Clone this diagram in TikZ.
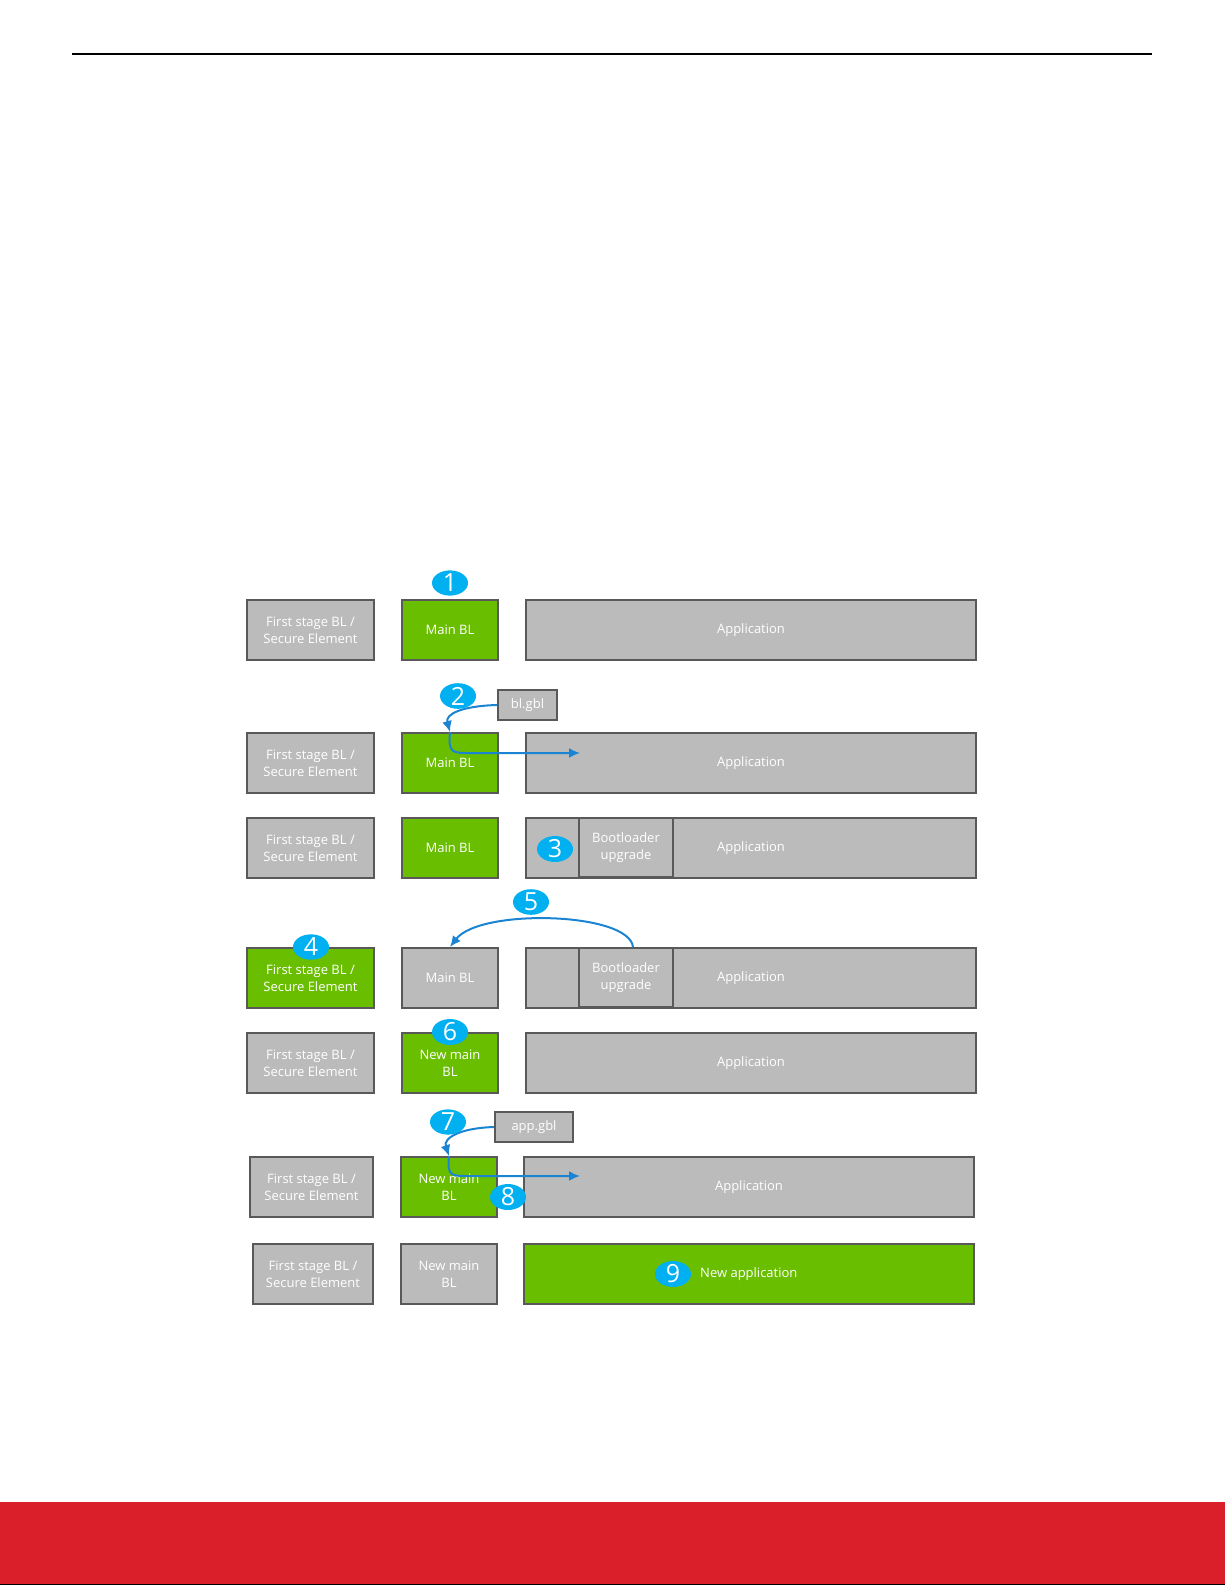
\documentclass[tikz,border=0pt]{standalone}
\usepackage{fontspec}
\setmainfont{Open Sans}
\usetikzlibrary{shapes.geometric,arrows.meta}
\definecolor{boxgray}{HTML}{BBBBBB}
\definecolor{edgegray}{HTML}{595959}
\definecolor{fwgreen}{HTML}{6ABE00}
\definecolor{badgeblue}{HTML}{00B0F0}
\definecolor{arrowblue}{HTML}{1A84D2}
\definecolor{footred}{HTML}{DA1F2A}
\begin{document}
\begin{tikzpicture}[x=1pt,y=-1pt,
  blk/.style={draw=edgegray, line width=2pt, fill=boxgray, text=white, align=center,
    inner sep=0pt, font=\fontsize{13}{17}\selectfont},
  grn/.style={blk, fill=fwgreen},
  fsw/.style={minimum width=127pt, minimum height=60pt},
  mbw/.style={minimum width=96pt, minimum height=60pt},
  apw/.style={minimum width=450pt, minimum height=60pt},
  buw/.style={line width=1.5pt, minimum width=94pt, minimum height=59pt},
  file/.style={blk, minimum height=30pt},
  badge/.style={ellipse, fill=badgeblue, text=white, inner sep=0pt,
    minimum width=36pt, minimum height=25pt, font=\fontsize{25}{25}\selectfont},
  flow/.style={draw=arrowblue, line width=2pt, -{Latex[length=11pt,width=10pt]}}]
\useasboundingbox (0,0) rectangle (1225,1585);
% header rule and footer band
\coordinate (hl) at (72,54);
\coordinate (hr) at (1152,54);
\draw[line width=1.4pt] (hl) -- (hr);
\fill[footred] (0,1502) rectangle (1225,1585);
\draw[line width=1pt] (0,1584.5) -- (1225,1584.5);

% row 1
\node[blk,fsw] (f1) at (310.5,630) {First stage BL /\\Secure Element};
\node[grn,mbw] (m1) at (450,630) {Main BL};
\node[blk,apw] (a1) at (751,630) {Application};
% row 2
\node[blk,fsw] (f2) at (310.5,763) {First stage BL /\\Secure Element};
\node[grn,mbw] (m2) at (450,763) {Main BL};
\node[blk,apw] (a2) at (751,763) {Application};
\node[file,minimum width=59pt] (g1) at (527.5,705) {bl.gbl};
% row 3
\node[blk,fsw] (f3) at (310.5,848) {First stage BL /\\Secure Element};
\node[grn,mbw] (m3) at (450,848) {Main BL};
\node[blk,apw] (a3) at (751,848) {Application};
\node[blk,buw] (u3) at (626,847.5) {Bootloader\\upgrade};
% row 4
\node[grn,fsw] (f4) at (310.5,978) {First stage BL /\\Secure Element};
\node[blk,mbw] (m4) at (450,978) {Main BL};
\node[blk,apw] (a4) at (751,978) {Application};
\node[blk,buw] (u4) at (626,977.5) {Bootloader\\upgrade};
% row 5
\node[blk,fsw] (f5) at (310.5,1063) {First stage BL /\\Secure Element};
\node[grn,mbw] (m5) at (450,1063) {New main\\BL};
\node[blk,apw] (a5) at (751,1063) {Application};
% row 6
\node[blk,minimum width=123pt,minimum height=60pt] (f6) at (311.5,1187) {First stage BL /\\Secure Element};
\node[grn,mbw] (m6) at (449,1187) {New main\\BL};
\node[blk,apw] (a6) at (749,1187) {Application};
\node[file,minimum width=78pt] (g2) at (534,1127) {app.gbl};
% row 7
\node[blk,minimum width=120pt,minimum height=60pt] (f7) at (313,1274) {First stage BL /\\Secure Element};
\node[blk,mbw] (m7) at (449,1274) {New main\\BL};
\node[grn,apw] (a7) at (749,1274) {};
\node[anchor=west, text=white, inner sep=0pt, font=\fontsize{13}{17}\selectfont] (t9) at (700,1274) {New application};

% arrows
\coordinate (e2) at (580,753);
\draw[flow] (g1.west) .. controls (462,706) and (445,714) .. (m2.north);
\draw[flow] (m2.north) .. controls (448,753) and (452,753) .. (470,753) -- (e2);
\draw[flow] ([xshift=7pt]u4.north) .. controls (630,912) and (480,908) .. (m4.north);
\coordinate (e7) at (580,1176);
\draw[flow] (g2.west) .. controls (460,1128) and (443,1138) .. (m6.north);
\draw[flow] (m6.north) .. controls (447,1176) and (451,1176) .. (468,1176) -- (e7);

% step badges
\node[badge] (b1) at (450,583) {1};
\node[badge] (b2) at (458,696) {2};
\node[badge] (b3) at (555,849) {3};
\node[badge] (b4) at (311,947) {4};
\node[badge] (b5) at (531,902) {5};
\node[badge] (b6) at (450,1032) {6};
\node[badge] (b7) at (448,1122) {7};
\node[badge] (b8) at (508,1197) {8};
\node[badge] (b9) at (673,1274) {9};
\end{tikzpicture}
\end{document}
